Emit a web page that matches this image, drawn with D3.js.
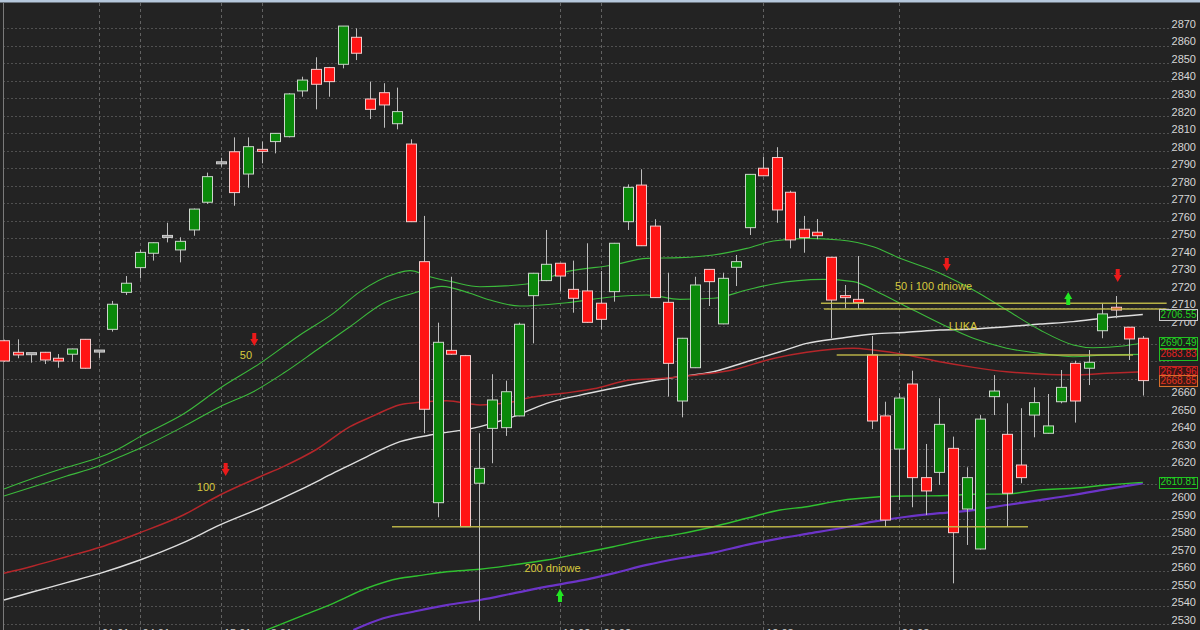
<!DOCTYPE html>
<html>
<head>
<meta charset="utf-8">
<script src="https://cdn.jsdelivr.net/npm/d3@7"></script>
<style>
  html, body { margin: 0; padding: 0; background: #232323; overflow: hidden; }
  svg { display: block; font-family: "Liberation Sans", Arial, sans-serif; }
</style>
</head>
<body>
<svg id="chart" width="1200" height="630"></svg>
<script>
// Daily candles, index 0..84
const opens  = [2691.6,2685.0,2684.2,2685.0,2681.6,2683.9,2692.4,2685.7,2698.1,2719.2,
                2733.3,2741.5,2751.1,2743.4,2754.8,2770.6,2793.1,2799.4,2786.7,2800.6,
                2805.2,2808.0,2834.1,2846.4,2847.4,2849.3,2864.7,2829.5,2833.1,2815.4,
                2803.8,2736.7,2599.2,2686.1,2683.1,2610.3,2641.6,2642.0,2648.7,2717.3,
                2725.9,2735.8,2720.9,2720.0,2713.0,2719.6,2759.5,2780.4,2757.0,2713.5,
                2657.2,2676.2,2732.3,2701.2,2733.5,2756.1,2790.0,2796.1,2776.3,2755.2,
                2753.5,2739.2,2717.1,2715.2,2683.5,2648.7,2629.8,2666.9,2613.5,2616.5,
                2630.2,2595.6,2572.8,2659.7,2638.2,2620.7,2649.2,2638.8,2656.8,2678.7,
                2675.9,2697.3,2710.7,2699.3,2693.0];
const highs  = [2692.2,2692.4,2684.6,2685.2,2684.0,2687.1,2692.6,2686.0,2714.3,2728.5,
                2743.4,2747.7,2758.9,2750.6,2767.0,2787.5,2796.0,2807.6,2807.6,2805.2,
                2810.1,2832.8,2842.2,2853.3,2847.8,2871.1,2869.8,2839.4,2838.5,2836.0,
                2806.5,2762.8,2701.9,2728.1,2683.5,2638.8,2672.5,2668.8,2701.9,2730.3,
                2754.8,2736.0,2737.3,2747.2,2731.4,2747.4,2780.8,2789.4,2760.9,2730.4,
                2693.2,2728.1,2732.5,2730.4,2740.5,2786.7,2796.6,2802.0,2777.2,2762.8,
                2761.0,2739.4,2723.4,2739.9,2694.3,2656.8,2661.6,2674.5,2632.7,2658.8,
                2636.9,2619.4,2649.2,2672.0,2655.9,2653.1,2665.0,2661.2,2674.9,2680.2,
                2686.3,2713.0,2717.1,2699.5,2694.3];
const lows   = [2679.6,2681.6,2679.1,2678.3,2676.2,2679.6,2675.7,2681.8,2696.8,2717.7,
                2727.2,2737.3,2747.7,2736.3,2751.5,2769.6,2790.9,2768.6,2778.9,2792.8,
                2798.5,2807.6,2830.8,2823.6,2830.8,2847.0,2851.7,2818.1,2813.1,2812.2,
                2759.3,2638.8,2590.9,2683.5,2585.3,2531.9,2621.7,2637.3,2648.5,2690.1,
                2725.6,2719.6,2707.6,2701.8,2698.1,2713.9,2754.8,2745.6,2716.0,2659.7,
                2647.9,2676.0,2711.4,2701.0,2722.8,2751.9,2785.5,2758.9,2744.3,2741.8,
                2749.5,2693.0,2710.1,2709.7,2641.2,2585.5,2600.7,2596.6,2592.2,2609.3,
                2553.2,2575.1,2572.5,2649.2,2585.5,2610.3,2636.5,2638.6,2655.9,2644.9,
                2666.3,2693.0,2704.4,2680.6,2660.3];
const closes = [2680.0,2683.5,2684.2,2680.6,2680.0,2686.9,2675.9,2685.7,2712.4,2724.4,
                2742.0,2747.5,2751.1,2748.3,2766.7,2785.2,2793.1,2776.1,2802.3,2799.8,
                2809.9,2832.4,2840.3,2837.9,2839.4,2871.1,2855.6,2823.6,2826.1,2822.3,
                2759.5,2652.5,2690.7,2683.9,2585.5,2618.8,2657.8,2662.5,2701.0,2730.1,
                2735.2,2728.5,2715.8,2702.1,2703.8,2747.2,2779.1,2745.8,2716.2,2678.7,
                2693.0,2723.4,2725.3,2727.2,2736.7,2786.5,2785.7,2766.2,2749.1,2750.4,
                2751.5,2714.8,2716.4,2713.3,2645.8,2589.3,2658.9,2613.5,2605.9,2643.9,
                2582.1,2613.5,2646.9,2662.9,2604.6,2613.5,2656.3,2643.0,2665.0,2657.2,
                2679.3,2706.9,2709.1,2692.6,2668.85];

// Moving averages as [candle index, value]
const maFastUpper = [[0,2607.0],[2.16,2613.1],[4.62,2619.4],[6.84,2624.5],[8.31,2629.3],[10.03,2636.9],
  [13.23,2649.8],[15.93,2664.5],[18.88,2678.7],[21.83,2694.9],[24.29,2707.2],[26.26,2719.6],
  [28.97,2730.1],[29.95,2731.6],[31.42,2728.1],[33.02,2725.3],[35.11,2722.4],[38.56,2724.0],
  [41.51,2731.0],[44.94,2734.8],[47.41,2738.6],[49.86,2739.0],[52.32,2740.5],[54.78,2744.3],
  [56.75,2748.5],[59.21,2750.0],[61.67,2749.1],[64.12,2745.2],[66.09,2738.6],[69.04,2730.1],
  [71.5,2720.5],[73.96,2709.1],[76.42,2697.7],[78.87,2689.2],[80.35,2687.6],[82.56,2688.6],[84,2690.49]];
const maFastLower = [[0,2603.0],[2.16,2608.3],[4.62,2614.4],[6.84,2619.7],[8.31,2624.5],[10.03,2630.2],
  [13.23,2642.6],[15.93,2654.0],[18.39,2662.5],[20.6,2673.0],[23.07,2686.3],[25.52,2699.6],
  [27.98,2713.0],[30.19,2718.7],[32.3,2722.6],[34.37,2718.7],[35.85,2714.8],[38.06,2711.4],
  [41.51,2713.3],[44.94,2716.7],[47.41,2717.7],[49.86,2715.2],[52.32,2715.8],[54.78,2720.5],
  [56.75,2724.0],[60.43,2726.6],[62.65,2725.3],[64.62,2718.7],[66.59,2711.0],[69.04,2701.5],
  [71.5,2693.0],[73.96,2687.3],[76.42,2684.4],[78.87,2682.5],[81.34,2683.5],[84,2683.83]];
const ma50 = [[0,2558.9],[2.16,2563.1],[4.62,2568.4],[7.08,2573.8],[10.03,2582.1],[13.23,2592.2],
  [15.93,2603.6],[18.88,2614.0],[20.6,2619.8],[23.07,2629.7],[25.52,2642.6],[27.24,2648.7],
  [29.21,2655.1],[30.44,2656.3],[32.65,2657.4],[35.11,2655.0],[37.57,2656.8],[38.56,2658.8],
  [41.26,2661.6],[43.72,2664.5],[46.18,2669.2],[48.63,2670.2],[51.1,2672.1],[53.55,2674.6],
  [56.75,2681.5],[59.21,2685.0],[62.65,2687.3],[64.12,2686.3],[66.59,2683.5],[69.04,2679.6],
  [71.5,2676.4],[73.96,2673.9],[76.42,2672.6],[78.87,2672.1],[81.34,2673.0],[84,2673.96]];
const ma100 = [[0,2543.7],[2.16,2548.4],[4.62,2553.6],[7.08,2558.9],[10.03,2566.5],[13.23,2576.4],
  [15.93,2586.5],[18.88,2596.0],[21.83,2606.5],[24.29,2616.0],[26.75,2625.4],[29.21,2634.0],
  [31.42,2637.8],[35.11,2642.6],[37.57,2648.3],[40.03,2655.9],[42.49,2660.6],[44.94,2664.5],
  [47.41,2668.2],[49.86,2671.1],[52.32,2673.9],[54.78,2679.6],[57.24,2685.3],[59.21,2690.1],
  [61.67,2693.0],[64.12,2695.4],[66.59,2696.4],[69.04,2697.7],[71.5,2698.3],[73.96,2699.6],
  [76.42,2701.1],[78.87,2702.5],[81.34,2704.7],[84,2706.55]];
const ma200 = [[19.38,2526.6],[21.83,2534.2],[24.29,2541.8],[26.75,2550.4],[29.21,2556.1],[30.44,2557.4],
  [32.65,2559.8],[35.11,2561.2],[37.57,2563.7],[40.03,2566.5],[42.49,2570.3],[44.94,2574.1],
  [47.41,2578.3],[49.86,2581.4],[52.32,2585.5],[54.78,2590.3],[57.24,2595.0],[59.21,2596.9],
  [61.67,2600.4],[64.12,2602.3],[66.59,2603.0],[69.04,2603.2],[71.5,2604.0],[73.96,2604.2],
  [76.42,2606.5],[78.87,2607.4],[81.34,2609.3],[84,2610.81]];
const trendPurple = [[25.77,2526.6],[27.98,2533.3],[30.19,2537.0],[32.65,2540.8],[35.11,2543.7],
  [37.57,2547.5],[40.03,2551.3],[42.49,2554.7],[44.94,2558.9],[47.41,2563.7],[49.86,2567.5],
  [52.32,2570.7],[54.78,2575.1],[57.24,2578.8],[59.21,2581.4],[61.67,2584.6],[64.12,2588.4],
  [66.59,2591.2],[69.04,2593.2],[71.5,2595.0],[73.96,2597.9],[76.42,2600.7],[78.87,2603.6],
  [81.34,2606.9],[84,2610.3]];

// Horizontal levels: [from index, to index, price]
const levels = [[28.62,75.53,2585.5],[60.26,85.76,2713.0],[60.49,85.76,2709.7],[61.42,83.28,2683.4]];

// Signal arrows: [index, price, direction]
const arrows = [[18.46,2692.0,"down"],[16.35,2617.9,"down"],[41.01,2546.6,"up"],
                [69.54,2734.8,"down"],[78.5,2716.0,"up"],[82.15,2728.5,"down"]];
// Notes: [index, price, text]
const notes = [[17.85,2683.1,"50"],[14.9,2607.6,"100"],[40.46,2561.4,"200 dniowe"],
               [68.56,2722.4,"50 i 100 dniowe"],[70.74,2699.6,"LUKA"]];

// Last-value tags on the price axis
const tagValues = [2706.55, 2690.49, 2683.83, 2673.96, 2668.85, 2610.81];
const tagText   = ["#22d622","#22d622","#e42222","#e42222","#e43422","#22d622"];
const tagBorder = ["#c8c8c8","#22c022","#22c022","#c42424","#d8702c","#22c022"];
const tagFill   = ["#1d1d1d","#1d1d1d","#1d1d1d","#3c1616","#3c1a14","#1d1d1d"];

const priceTicks = d3.range(2530, 2871, 10);
const dateTickIdx = [7, 10, 16, 19, 41, 44, 56, 66];
const dateTickLbl = ["01.01","04.01","15.01","18.01","19.02","22.02","12.03","26.03"];

const svg = d3.select("#chart");
const x = d3.scaleLinear().domain([0, 84]).range([4, 1142.8]);
const y = d3.scaleLinear().domain([2530, 2870]).range([624, 28]);

svg.append("rect").attr("width", 1200).attr("height", 630).attr("fill", "#232323");

// grid
const grid = svg.append("g");
grid.selectAll("line.h").data(priceTicks).join("line")
  .attr("x1", 3).attr("x2", 1172)
  .attr("y1", d => Math.round(y(d)) + 0.5).attr("y2", d => Math.round(y(d)) + 0.5)
  .attr("stroke", "#505050").attr("stroke-dasharray", "2,2");
grid.selectAll("line.v").data(dateTickIdx).join("line")
  .attr("x1", d => Math.round(x(d)) + 0.5).attr("x2", d => Math.round(x(d)) + 0.5)
  .attr("y1", 3).attr("y2", 630)
  .attr("stroke", "#626262").attr("stroke-dasharray", "3,3");
grid.append("line")
  .attr("x1", Math.round(x(0)) - 0.5).attr("x2", Math.round(x(0)) - 0.5)
  .attr("y1", 3).attr("y2", 630).attr("stroke", "#7a7a7a");

// date labels along the bottom edge (the strip is mostly below the frame)
svg.append("g").selectAll("text").data(dateTickIdx).join("text")
  .attr("x", d => x(d) + 3).attr("y", 637)
  .attr("fill", "#c8c8c8").attr("font-size", 11)
  .text((d, i) => dateTickLbl[i]);

// price labels; those sitting under a value tag are hidden by it
const visibleTicks = priceTicks.filter(t =>
  !tagValues.some(v => Math.abs((y(t) - 3) - y(v)) < 7));
svg.append("g").selectAll("text").data(visibleTicks).join("text")
  .attr("x", 1196).attr("y", d => y(d) - 3)
  .attr("text-anchor", "end").attr("dominant-baseline", "middle")
  .attr("fill", "#d6d6d6").attr("font-size", 11)
  .text(d => d);

// moving averages
svg.append("clipPath").attr("id", "plot")
  .append("rect").attr("x", 0).attr("y", 3).attr("width", 1170).attr("height", 627);
const lineGen = d3.line().x(d => x(d[0])).y(d => y(d[1])).curve(d3.curveMonotoneX);
const maLayer = svg.append("g").attr("clip-path", "url(#plot)").attr("fill", "none");
const maSeries = [
  [trendPurple, "#6c34c8", 2.2],
  [ma200, "#30c030", 1.4],
  [ma100, "#dedede", 1.4],
  [ma50, "#b5262a", 1.5],
  [maFastLower, "#3cba3c", 1.1],
  [maFastUpper, "#3cba3c", 1.1]
];
maSeries.forEach(([pts, col, w]) => {
  maLayer.append("path").attr("d", lineGen(pts)).attr("stroke", col).attr("stroke-width", w);
});

// candles
const candleIdx = d3.range(opens.length);
const bodyW = 10;
const cg = svg.append("g");
cg.selectAll("line").data(candleIdx).join("line")
  .attr("x1", i => Math.round(x(i)) + 0.5).attr("x2", i => Math.round(x(i)) + 0.5)
  .attr("y1", i => y(highs[i])).attr("y2", i => y(lows[i]))
  .attr("stroke", "#bdbdbd").attr("stroke-width", 1);
cg.selectAll("rect").data(candleIdx).join("rect")
  .attr("x", i => Math.round(x(i)) - bodyW / 2 + 0.5)
  .attr("width", bodyW)
  .attr("y", i => {
    const top = y(Math.max(opens[i], closes[i]));
    const h = Math.abs(y(opens[i]) - y(closes[i]));
    return h < 2 ? (top + h / 2) - 1 : top;
  })
  .attr("height", i => Math.max(2, Math.abs(y(opens[i]) - y(closes[i]))))
  .attr("fill", i => closes[i] > opens[i] ? "#0a880a" : (closes[i] < opens[i] ? "#ff1414" : "#9a9a9a"))
  .attr("stroke", i => closes[i] > opens[i] ? "#cbd6cb" : (closes[i] < opens[i] ? "#f4cccc" : "#d0d0d0"))
  .attr("stroke-width", 1);

// horizontal levels
svg.append("g").selectAll("line").data(levels).join("line")
  .attr("x1", d => x(d[0])).attr("x2", d => x(d[1]))
  .attr("y1", d => y(d[2])).attr("y2", d => y(d[2]))
  .attr("stroke", "#c6c04a").attr("stroke-width", 1.5).attr("stroke-opacity", 0.9);

// arrows
const arrowDown = "M-2,-7 L2,-7 L2,-1 L4,-1 L0,6 L-4,-1 L-2,-1 Z";
const arrowUp = "M-2,7 L2,7 L2,1 L4,1 L0,-6 L-4,1 L-2,1 Z";
svg.append("g").selectAll("path").data(arrows).join("path")
  .attr("transform", d => `translate(${x(d[0])},${y(d[1])})`)
  .attr("d", d => d[2] === "down" ? arrowDown : arrowUp)
  .attr("fill", d => d[2] === "down" ? "#ea1a1a" : "#22e622");

// notes
svg.append("g").selectAll("text").data(notes).join("text")
  .attr("x", d => x(d[0])).attr("y", d => y(d[1]))
  .attr("text-anchor", "middle").attr("dominant-baseline", "middle")
  .attr("fill", "#d8ca3e").attr("font-size", 11)
  .text(d => d[2]);

// value tags
const tags = svg.append("g");
tagValues.forEach((v, i) => {
  tags.append("rect")
    .attr("x", 1159.5).attr("y", Math.round(y(v) - 5.5) + 0.5)
    .attr("width", 38).attr("height", 11)
    .attr("fill", tagFill[i]).attr("stroke", tagBorder[i]);
  tags.append("text")
    .attr("x", 1178.5).attr("y", y(v) + 0.5)
    .attr("text-anchor", "middle").attr("dominant-baseline", "middle")
    .attr("font-size", 10).attr("fill", tagText[i])
    .text(v.toFixed(2));
});

// top frame strip
svg.append("rect").attr("x", 0).attr("y", 0).attr("width", 1200).attr("height", 2.5).attr("fill", "#b6c8dc");
</script>
</body>
</html>
